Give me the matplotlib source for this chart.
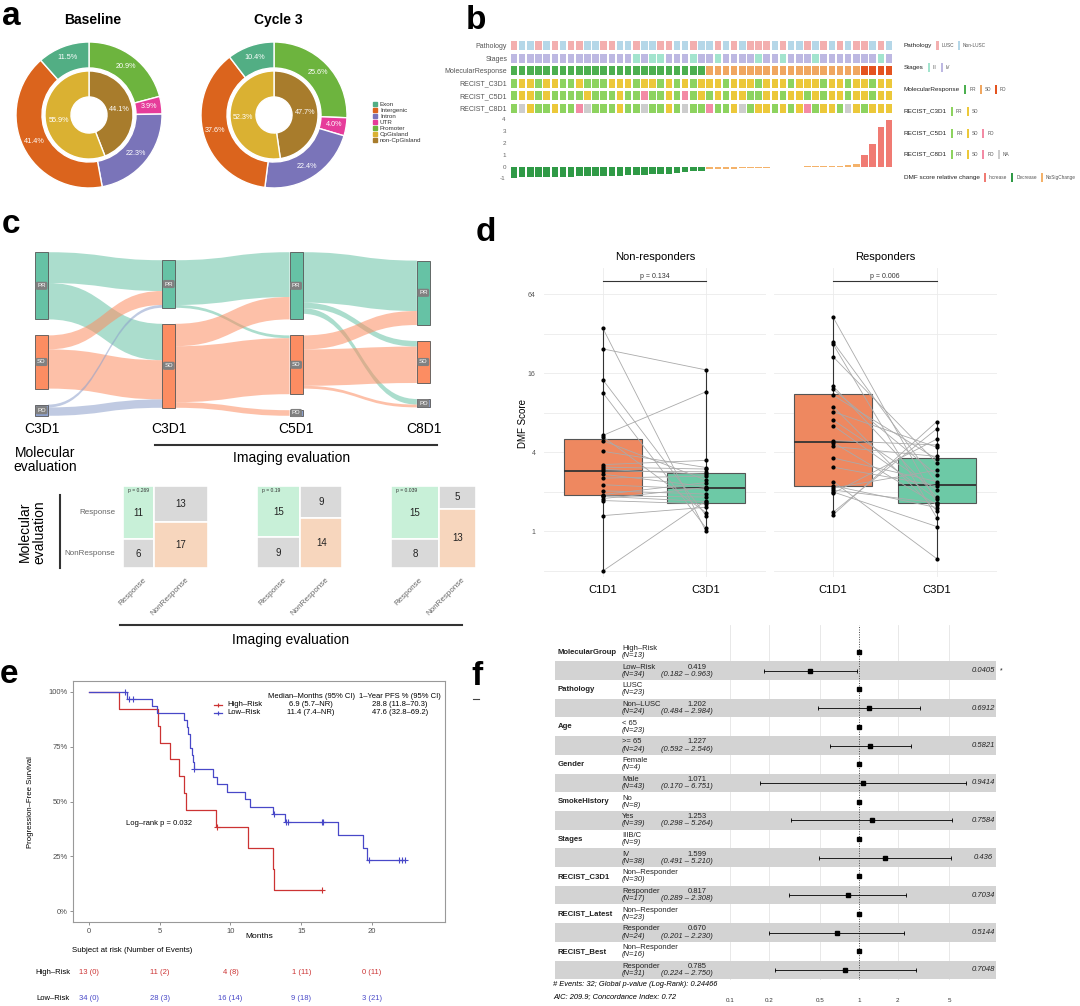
import numpy as np
import matplotlib
matplotlib.use('Agg')
import matplotlib.pyplot as plt
from matplotlib.path import Path
from matplotlib.patches import PathPatch, Rectangle
from matplotlib import transforms, cbook
from matplotlib.ticker import NullFormatter, NullLocator

plt.rcParams['font.family'] = ['Liberation Sans', 'DejaVu Sans']
plt.rcParams['axes.unicode_minus'] = False

# ---------------- data: panel a (genomic distribution, %)
region_names = ['Exon', 'Intergenic', 'Intron', 'UTR', 'Promoter']
baseline_region = [11.5, 41.4, 22.3, 3.9, 20.9]
cycle3_region = [10.4, 37.6, 22.4, 4.0, 25.6]
cpg_names = ['CpGisland', 'non-CpGisland']
baseline_cpg = [55.9, 44.1]
cycle3_cpg = [52.3, 47.7]

# ---------------- data: panel b (47 patients, one code per patient)
pathology_codes = "LNNLNLNLLN NLLNNLNNLL NNLNNLNLNL LLNLNNLNLN LNLLNLN".replace(' ', '')
stage_codes = "4444444444 4444434334 4434434444 3443444344 4444434".replace(' ', '')
molresp_codes = "PPPPPPPPPP PPPPPPPPPP PPPPSSSSSS SSSSSSSSSS SSSDDDD".replace(' ', '')
c3d1_codes = "PSSPSSPPSP PPSSSPSSPS PSPSSSPSSS PSSSPSSSPS SPSSPSS".replace(' ', '')
c5d1_codes = "PSSPSPPPPS PPPSPPDPPS PDPSPSPSSP PSSPSSPSPS SPSSPSS".replace(' ', '')
c8d1_codes = "PNSPPSPPDN PPPSPPNPPS PNPPDPPSNP SSPSPSDPSS PNSPSSS".replace(' ', '')
dmf_change = [-0.93, -0.92, -0.92, -0.91, -0.89, -0.88, -0.86, -0.86, -0.84, -0.83,
              -0.82, -0.80, -0.79, -0.77, -0.75, -0.73, -0.70, -0.67, -0.64, -0.60,
              -0.55, -0.50, -0.42, -0.38, -0.24, -0.22, -0.20, -0.18, -0.16, -0.14,
              -0.12, -0.10, -0.07, -0.05, -0.03, -0.01, 0.005, 0.01, 0.03, 0.05,
              0.08, 0.12, 0.18, 0.95, 1.90, 3.35, 3.90]

# ---------------- data: panel c
stage_names = ['C3D1', 'C3D1', 'C5D1', 'C8D1']
flow_mol_c3 = [[11, 13], [5, 14], [1, 3]]
flow_c3_c5 = [[16, 1, 0], [8, 20, 2]]
flow_c5_c8 = [[18, 2, 2], [5, 13, 1], [0, 0, 0]]
table_counts = [[[11, 13], [6, 17]], [[15, 9], [9, 14]], [[15, 5], [8, 13]]]
table_p = ['p = 0.269', 'p = 0.19', 'p = 0.039']
table_levels = ['Response', 'NonResponse']

# ---------------- data: panel d (DMF score)
nonresp_c1d1 = [35.3, 24.6, 14.3, 11.4, 5.39, 5.28, 4.92, 4.08, 3.23, 3.09, 2.97, 2.89,
                2.73, 2.55, 2.27, 2.04, 1.91, 1.87, 1.85, 1.78, 1.72, 1.32, 0.50]
nonresp_c3d1 = [1.00, 17.0, 1.32, 1.06, 11.6, 1.39, 2.46, 3.07, 3.48, 2.99, 2.73, 2.85,
                2.20, 2.64, 2.10, 1.93, 2.36, 1.83, 1.69, 2.16, 1.62, 1.53, 1.72]
resp_c1d1 = [42.8, 27.7, 26.7, 21.4, 12.8, 12.1, 10.9, 8.94, 8.17, 7.06, 6.41, 4.92,
             4.76, 4.44, 3.63, 3.09, 2.40, 2.23, 2.14, 2.07, 2.00, 1.96, 1.40, 1.34]
resp_c3d1 = [1.66, 2.31, 1.27, 3.32, 1.83, 2.69, 3.56, 1.44, 4.38, 2.07, 1.77, 4.56,
             1.60, 3.73, 2.40, 2.23, 0.62, 1.52, 2.93, 1.65, 1.09, 5.06, 6.06, 6.87]

# ---------------- data: panel e (PFS, months)
high_time = [2.15, 4.85, 5.02, 5.76, 6.39, 6.69, 6.87, 9.0, 9.05, 11.26, 13.03, 13.1, 16.5]
high_event = [1, 1, 1, 1, 1, 1, 1, 1, 0, 1, 1, 1, 0]
low_time = [2.58, 2.7, 2.83, 3.08, 4.47, 4.8, 6.74, 6.95, 7.02, 7.12, 7.17, 7.25, 7.32,
            7.4, 7.45, 8.79, 9.02, 9.75, 11.06, 11.36, 13.03, 13.1, 13.84, 13.9, 14.04,
            16.45, 16.55, 17.6, 19.34, 19.62, 19.8, 21.9, 22.1, 22.35]
low_event = [0, 1, 0, 0, 1, 1, 1, 1, 1, 1, 1, 1, 1, 1, 0, 1, 1, 1, 1, 1, 1, 0, 1, 0, 0,
             0, 0, 1, 1, 1, 0, 0, 0, 0]
risk_times = [0, 5, 10, 15, 20]
high_at_risk = [13, 11, 4, 1, 0]
high_cum_events = [0, 2, 8, 11, 11]
low_at_risk = [34, 28, 16, 9, 3]
low_cum_events = [0, 3, 14, 18, 21]

# ---------------- data: panel f (Cox model)
forest_vars = ['MolecularGroup', 'Pathology', 'Age', 'Gender', 'SmokeHistory', 'Stages',
               'RECIST_C3D1', 'RECIST_Latest', 'RECIST_Best']
forest_ref = ['High–Risk', 'LUSC', '< 65', 'Female', 'No', 'IIIB/C',
              'Non–Responder', 'Non–Responder', 'Non–Responder']
forest_ref_n = [13, 23, 23, 4, 8, 9, 30, 23, 16]
forest_cmp = ['Low–Risk', 'Non–LUSC', '>= 65', 'Male', 'Yes', 'IV',
              'Responder', 'Responder', 'Responder']
forest_cmp_n = [34, 24, 24, 43, 39, 38, 17, 24, 31]
forest_hr = [0.419, 1.202, 1.227, 1.071, 1.253, 1.599, 0.817, 0.670, 0.785]
forest_lo = [0.182, 0.484, 0.592, 0.170, 0.298, 0.491, 0.289, 0.201, 0.224]
forest_hi = [0.963, 2.984, 2.546, 6.751, 5.264, 5.210, 2.308, 2.230, 2.750]
forest_p = ['0.0405', '0.6912', '0.5821', '0.9414', '0.7584', '0.436', '0.7034', '0.5144', '0.7048']
forest_star = ['*', '', '', '', '', '', '', '', '']

# ---------------- colours
region_colors = ['#52AE84', '#DB641D', '#7A74B9', '#E63C9A', '#6DB43E']
cpg_colors = ['#DAB132', '#A87C2C']
path_colors = {'L': '#F3AFAF', 'N': '#B5D7E8'}
stage_colors = {'3': '#A3E4CE', '4': '#BDB8E2'}
mol_colors = {'P': '#4CAF4F', 'S': '#F0A760', 'D': '#E4531F'}
recist_colors = {'P': '#8DD35F', 'S': '#ECC83A', 'D': '#F38BA5', 'N': '#CDCDCD'}
dmf_colors = {'P': '#2F9A46', 'S': '#F4B26A', 'D': '#F07B73'}
node_colors = ['#66C2A5', '#FC8D62', '#8DA0CB']
red, blue = '#CC3333', '#4848C8'

W, H = 1080, 1006
fig = plt.figure(figsize=(W / 100, H / 100), dpi=100)


def px_axes(x0, y0, x1, y1):
    return fig.add_axes([x0 / W, 1 - y1 / H, (x1 - x0) / W, (y1 - y0) / H])


canvas = px_axes(0, 0, W, H)
canvas.set_xlim(0, W)
canvas.set_ylim(H, 0)
canvas.axis('off')
canvas.set_zorder(10)
renderer = fig.canvas.get_renderer()

for lab, x, y in [('a', 2, 25), ('b', 466, 29), ('c', 2, 233), ('d', 476, 241), ('e', 0, 683), ('f', 471, 685)]:
    canvas.text(x, y, lab, fontsize=24, fontweight='bold', ha='left', va='baseline')

# ================= panel a
def donut(cx, cy, title, region, cpg):
    ax = px_axes(cx - 76, cy - 76, cx + 76, cy + 76)
    order = [4, 3, 2, 1, 0]
    ax.pie([region[i] for i in order], colors=[region_colors[i] for i in order], radius=1,
           startangle=90, counterclock=False, autopct='%.1f%%', pctdistance=0.835,
           wedgeprops=dict(width=0.356, edgecolor='white', linewidth=1.0),
           textprops=dict(color='white', fontsize=5.2))
    ax.pie([cpg[1], cpg[0]], colors=[cpg_colors[1], cpg_colors[0]], radius=0.603,
           startangle=90, counterclock=False, autopct='%.1f%%', pctdistance=0.70,
           wedgeprops=dict(width=0.356, edgecolor='white', linewidth=1.0),
           textprops=dict(color='white', fontsize=5.2))
    ax.set_xlim(-76 / 73, 76 / 73)
    ax.set_ylim(-76 / 73, 76 / 73)
    ax.set_aspect('equal')
    canvas.text(cx + 4, 20, title, fontsize=10, fontweight='bold', ha='center', va='center')


donut(89, 115, 'Baseline', baseline_region, baseline_cpg)
donut(274, 115, 'Cycle 3', cycle3_region, cycle3_cpg)
for i, (name, col) in enumerate(zip(region_names + cpg_names, region_colors + cpg_colors)):
    canvas.plot(375, 104 + 6 * i, 's', ms=2.4, color=col)
    canvas.text(380, 104 + 6 * i, name, fontsize=4.5, va='center', color='#333')

# ================= panel b
hm_rows = ['Pathology', 'Stages', 'MolecularResponse', 'RECIST_C3D1', 'RECIST_C5D1', 'RECIST_C8D1']
hm_data = [(pathology_codes, path_colors), (stage_codes, stage_colors), (molresp_codes, mol_colors),
           (c3d1_codes, recist_colors), (c5d1_codes, recist_colors), (c8d1_codes, recist_colors)]
hm = px_axes(510, 40, 893, 114)
n_pat = len(molresp_codes)
for r, (codes, cmap) in enumerate(hm_data):
    hm.bar(range(n_pat), 0.73, bottom=r - 0.365, width=0.8, color=[cmap[c] for c in codes])
hm.set_xlim(-0.5, n_pat - 0.5)
hm.set_ylim(5.48, -0.48)
hm.set_yticks(range(len(hm_rows)))
hm.set_yticklabels(hm_rows, fontsize=5, color='#555')
hm.set_xticks([])
hm.tick_params(length=0, pad=2)
for s in hm.spines.values():
    s.set_visible(False)

bx = px_axes(510, 117, 893, 180)
bx.bar(range(n_pat), dmf_change, width=0.8, color=[dmf_colors[c] for c in molresp_codes])
bx.set_xlim(-0.5, n_pat - 0.5)
bx.set_ylim(-1.14, 4.19)
bx.set_yticks(range(-1, 5))
bx.set_yticklabels([str(v) for v in range(-1, 5)], fontsize=4.5, color='#666')
bx.set_xticks([])
bx.tick_params(length=0, pad=3)
for s in bx.spines.values():
    s.set_visible(False)

legend_b = [
    ('Pathology', [('LUSC', path_colors['L']), ('Non-LUSC', path_colors['N'])]),
    ('Stages', [('III', stage_colors['3']), ('IV', stage_colors['4'])]),
    ('MolecularResponse', [('PR', mol_colors['P']), ('SD', mol_colors['S']), ('PD', mol_colors['D'])]),
    ('RECIST_C3D1', [('PR', recist_colors['P']), ('SD', recist_colors['S'])]),
    ('RECIST_C5D1', [('PR', recist_colors['P']), ('SD', recist_colors['S']), ('PD', recist_colors['D'])]),
    ('RECIST_C8D1', [('PR', recist_colors['P']), ('SD', recist_colors['S']), ('PD', recist_colors['D']),
                     ('NA', recist_colors['N'])]),
    ('DMF score relative change', [('Increase', dmf_colors['D']), ('Decrease', dmf_colors['P']),
                                   ('NoSigChange', dmf_colors['S'])]),
]


def seq_text(x, y, s, **kw):
    t = canvas.text(x, y, s, va='center', ha='left', **kw)
    return x + t.get_window_extent(renderer=renderer).width


for (title, items), y in zip(legend_b, [45, 67, 89, 111, 133, 154, 177]):
    x = seq_text(904, y, title, fontsize=4.6, color='#222')
    for lab, col in items:
        x += 4
        canvas.add_patch(Rectangle((x, y - 4.5), 2.2, 9, color=col, lw=0))
        x = seq_text(x + 5, y, lab, fontsize=3.4, color='#555')

# ================= panel c : alluvial
flows = [flow_mol_c3, flow_c3_c5, flow_c5_c8]
node_counts = [[sum(r) for r in flow_mol_c3]] + [[sum(c) for c in zip(*f)] for f in flows]
sk = px_axes(20, 245, 445, 423)
sk.set_xlim(-0.169, 3.17)
sk.set_ylim(31.79, -31.79)
sk.axis('off')
gap = 16 / 2.8
hw = 0.051
tops = []
for counts in node_counts:
    y = -(sum(counts) + gap * (len(counts) - 1)) / 2
    t = []
    for c in counts:
        t.append(y)
        y += c + gap
    tops.append(t)


def band(ax, x0, x1, a0, b0, n, color):
    xm = (x0 + x1) / 2
    verts = [(x0, a0), (xm, a0), (xm, b0), (x1, b0),
             (x1, b0 + n), (xm, b0 + n), (xm, a0 + n), (x0, a0 + n), (x0, a0)]
    codes = [Path.MOVETO, Path.CURVE4, Path.CURVE4, Path.CURVE4,
             Path.LINETO, Path.CURVE4, Path.CURVE4, Path.CURVE4, Path.CLOSEPOLY]
    ax.add_patch(PathPatch(Path(verts, codes), fc=color, ec='none', alpha=0.55, zorder=1))


for k, f in enumerate(flows):
    out_off = list(tops[k])
    in_off = list(tops[k + 1])
    for i, row in enumerate(f):
        for j, n in enumerate(row):
            if n == 0:
                continue
            band(sk, k + hw, k + 1 - hw, out_off[i], in_off[j], n, node_colors[i])
            out_off[i] += n
            in_off[j] += n

levels = ['PR', 'SD', 'PD']
for k, counts in enumerate(node_counts):
    for i, c in enumerate(counts):
        sk.add_patch(Rectangle((k - hw, tops[k][i]), 2 * hw, c, fc=node_colors[i], ec='#555', lw=0.6, zorder=2))
        sk.text(k, tops[k][i] + c / 2, levels[i], fontsize=4.5, color='white', ha='center', va='center', zorder=3,
                bbox=dict(boxstyle='round,pad=0.25', fc='#808080', ec='none'))

for name, x in zip(stage_names, [41.5, 169, 296, 423.5]):
    canvas.text(x, 429, name, fontsize=10, ha='center', va='center')
canvas.text(45, 460, 'Molecular\nevaluation', fontsize=10, ha='center', va='center', linespacing=1.05)
canvas.plot([155, 437], [445, 445], color='#333', lw=1.5)
canvas.text(292, 458, 'Imaging evaluation', fontsize=10, ha='center', va='center')

# contingency mosaics
for ti, (counts, ptxt, x0) in enumerate(zip(table_counts, table_p, [123, 257, 391])):
    ax = px_axes(x0, 486, x0 + 85, 568)
    ax.set_xlim(0, 1)
    ax.set_ylim(1, 0)
    ax.axis('off')
    total = sum(sum(r) for r in counts)
    xl = 0
    for c in range(2):
        colsum = counts[0][c] + counts[1][c]
        w = colsum / total
        yt = 0
        for r in range(2):
            h = counts[r][c] / colsum
            col = '#C8F0D8' if (r == c == 0) else ('#F7D6BD' if r == c == 1 else '#D9D9D9')
            ax.add_patch(Rectangle((xl, yt), w, h, fc=col, ec='white', lw=1.2))
            ax.text(xl + w / 2, yt + h / 2, str(counts[r][c]), fontsize=7, ha='center', va='center', color='#222')
            if ti == 0 and c == 0:
                ax.text(-0.09, yt + h / 2, table_levels[r], fontsize=5.8, ha='right', va='center',
                        color='#666', clip_on=False)
            yt += h
        ax.text(xl + w / 2 + 0.05, 1.1, table_levels[c], fontsize=5.8, rotation=45, ha='right', va='top',
                rotation_mode='anchor', color='#666', clip_on=False)
        xl += w
    ax.text(0.06, 0.03, ptxt, fontsize=3.6, ha='left', va='top', color='#333')

canvas.text(32, 532, 'Molecular\nevaluation', fontsize=10, rotation=90, ha='center', va='center', linespacing=1.0)
canvas.plot([60, 60], [495, 568], color='#333', lw=1.5)
canvas.plot([120, 462], [625, 625], color='#333', lw=1.5)
canvas.text(291, 640, 'Imaging evaluation', fontsize=10, ha='center', va='center')

# ================= panel d
def log_box_stats(vals):
    st = cbook.boxplot_stats(np.log2(vals), whis=(0, 100))[0]
    for key in ('med', 'q1', 'q3', 'whislo', 'whishi'):
        st[key] = 2 ** st[key]
    st['fliers'] = []
    return st


def dmf_facet(x0, x1, title, ptxt, c1, c3, show_y):
    ax = px_axes(x0, 268, x1, 577)
    ax.set_yscale('log', base=2)
    res = ax.bxp([log_box_stats(c1), log_box_stats(c3)], positions=[1, 2], widths=0.75,
                 patch_artist=True, showfliers=False, showcaps=False, manage_ticks=False,
                 boxprops=dict(edgecolor='#555', linewidth=0.8),
                 medianprops=dict(color='#333', linewidth=1.3),
                 whiskerprops=dict(color='#333', linewidth=0.8))
    for b, col in zip(res['boxes'], ['#EE8860', '#6DC9A6']):
        b.set_facecolor(col)
        b.set_zorder(2)
    for a, b in zip(c1, c3):
        ax.plot([1, 2], [a, b], color='#AAAAAA', lw=0.6, zorder=3)
    ax.plot([1] * len(c1), c1, 'o', color='black', ms=2.0, zorder=4)
    ax.plot([2] * len(c3), c3, 'o', color='black', ms=2.0, zorder=4)
    ax.plot([1, 2], [81, 81], color='#333', lw=0.8, clip_on=False)
    ax.text(1.5, 88, ptxt, fontsize=5, ha='center', va='center', color='#333')
    ax.set_ylim(0.45, 101.6)
    ax.set_xlim(0.43, 2.58)
    for s in ax.spines.values():
        s.set_visible(False)
    ax.set_yticks([1, 4, 16, 64])
    ax.set_yticks([0.5, 2, 8, 32], minor=True)
    ax.yaxis.set_minor_formatter(NullFormatter())
    ax.set_yticklabels(['1', '4', '16', '64'] if show_y else [], fontsize=5, color='#555')
    ax.set_xticks([1, 2])
    ax.set_xticklabels(['C1D1', 'C3D1'], fontsize=8)
    ax.tick_params(length=0, which='both')
    ax.tick_params(axis='x', pad=6)
    ax.tick_params(axis='y', pad=6)
    ax.grid(True, which='both', color='#EBEBEB', lw=0.6)
    ax.set_axisbelow(True)
    canvas.text((x0 + x1) / 2, 257, title, fontsize=8, ha='center', va='center')


dmf_facet(544, 766, 'Non-responders', 'p = 0.134', nonresp_c1d1, nonresp_c3d1, True)
dmf_facet(774, 997, 'Responders', 'p = 0.006', resp_c1d1, resp_c3d1, False)
canvas.text(523, 423, 'DMF Score', fontsize=7, rotation=90, ha='center', va='center')

# ================= panel e
def km_curve(times, events):
    order = np.argsort(times, kind='stable')
    t = np.asarray(times, float)[order]
    e = np.asarray(events)[order]
    s, at_risk = 1.0, len(t)
    xs, ys, cens = [0.0], [1.0], []
    for ti, ei in zip(t, e):
        if ei:
            s *= (at_risk - 1) / at_risk
            xs.append(ti)
            ys.append(s)
        else:
            cens.append((ti, s))
        at_risk -= 1
    xs.append(t.max())
    ys.append(s)
    return xs, ys, cens


km = px_axes(73, 681, 445, 922)
km.set_xlim(-1.13, 25.16)
km.set_ylim(-0.05, 1.05)
for times, events, col in [(high_time, high_event, red), (low_time, low_event, blue)]:
    xs, ys, cens = km_curve(times, events)
    km.step(xs, ys, where='post', color=col, lw=0.9)
    km.plot([c[0] for c in cens], [c[1] for c in cens], '+', color=col, ms=4, mew=0.8)
km.set_xticks(risk_times)
km.set_xticklabels([str(v) for v in risk_times], fontsize=5.5, color='#4D4D4D')
km.set_yticks([0, 0.25, 0.5, 0.75, 1])
km.set_yticklabels(['0%', '25%', '50%', '75%', '100%'], fontsize=5.5, color='#4D4D4D')
km.tick_params(length=2, width=0.5, color='#666', pad=2)
for s in km.spines.values():
    s.set_color('#999')
    s.set_linewidth(0.8)
km.text(4.95, 0.40, 'Log–rank p = 0.032', fontsize=5.5, ha='center', va='center')
canvas.text(259, 937, 'Months', fontsize=6, ha='center', va='center')
canvas.text(31, 802, 'Progression–Free Survival', fontsize=5.6, rotation=90, ha='center', va='center')
canvas.text(311, 697, 'Median–Months (95% CI)', fontsize=5.5, ha='center', va='center')
canvas.text(400, 697, '1–Year PFS % (95% CI)', fontsize=5.5, ha='center', va='center')
for y, col, name, med, pfs in [(705, red, 'High–Risk', '6.9 (5.7–NR)', '28.8 (11.8–70.3)'),
                               (713, blue, 'Low–Risk', '11.4 (7.4–NR)', '47.6 (32.8–69.2)')]:
    canvas.plot([214, 222], [y, y], color=col, lw=0.9)
    canvas.plot(218, y, '+', color=col, ms=3.5, mew=0.8)
    canvas.text(227, y, name, fontsize=5.5, ha='left', va='center')
    canvas.text(311, y, med, fontsize=5.5, ha='center', va='center')
    canvas.text(400, y, pfs, fontsize=5.5, ha='center', va='center')

canvas.text(72, 951, 'Subject at risk (Number of Events)', fontsize=5.7, ha='left', va='center')
risk_tf = transforms.blended_transform_factory(km.transData, canvas.transData)
for y, col, name, nrisk, nev in [(972, red, 'High–Risk', high_at_risk, high_cum_events),
                                 (999, blue, 'Low–Risk', low_at_risk, low_cum_events)]:
    canvas.text(70, y, name, fontsize=5.5, ha='right', va='center')
    for t, n, e in zip(risk_times, nrisk, nev):
        canvas.text(t, y, f'{n} ({e})', fontsize=5.5, ha='center', va='center', color=col, transform=risk_tf)

# ================= panel f : forest plot
canvas.plot([473, 479], [699, 699], color='#444', lw=0.8)
fo = px_axes(555, 625, 996, 980)
fo.set_xscale('log')
fo.set_xlim(10 ** ((555 - 859) / 129), 10 ** ((996 - 859) / 129))
fo.set_ylim(17.54, -1.444)
for v in [0.1, 0.2, 0.5, 2, 5]:
    fo.axvline(v, color='#E4E4E4', lw=0.6, zorder=0)
fo.axvline(1, color='#444', lw=0.7, ls=(0, (1, 1.5)), zorder=2)
tf = transforms.blended_transform_factory(fo.transAxes, fo.transData)


def fx(px):
    return (px - 555) / 441


txt = dict(fontsize=5.5, va='center', transform=tf, color='#222')
for k in range(len(forest_vars)):
    y0, y1 = 2 * k, 2 * k + 1
    fo.axhspan(y1 - 0.495, y1 + 0.495, color='#D3D3D3', lw=0, zorder=0.5)
    fo.text(fx(558), y0, forest_vars[k], fontweight='bold', ha='left', **dict(txt, fontsize=5.6))
    fo.text(fx(622), y0 - 0.19, forest_ref[k], ha='left', **txt)
    fo.text(fx(622), y0 + 0.19, f'(N={forest_ref_n[k]})', ha='left', style='italic', **txt)
    fo.text(fx(622), y1 - 0.19, forest_cmp[k], ha='left', **txt)
    fo.text(fx(622), y1 + 0.19, f'(N={forest_cmp_n[k]})', ha='left', style='italic', **txt)
    fo.text(fx(697), y1 - 0.19, f'{forest_hr[k]:.3f}', ha='center', **txt)
    fo.text(fx(687), y1 + 0.19, f'({forest_lo[k]:.3f} – {forest_hi[k]:.3f})', ha='center', style='italic', **txt)
    fo.text(fx(983), y1, forest_p[k], ha='center', style='italic', **txt)
    if forest_star[k]:
        fo.text(fx(1000), y1, forest_star[k], ha='left', clip_on=False, **dict(txt, fontsize=5))
    fo.plot([forest_lo[k], forest_hi[k]], [y1, y1], color='black', lw=0.6, zorder=3)
    fo.plot([forest_lo[k], forest_hi[k]], [y1, y1], '|', color='black', ms=2.4, mew=0.6, zorder=3)
    fo.plot([1], [y0], 's', color='black', ms=3.5, zorder=4)
    fo.plot([forest_hr[k]], [y1], 's', color='black', ms=3.5, zorder=4)
fo.set_xticks([0.1, 0.2, 0.5, 1, 2, 5])
fo.xaxis.set_minor_locator(NullLocator())
fo.set_xticklabels(['0.1', '0.2', '0.5', '1', '2', '5'], fontsize=4.5, color='#333')
fo.tick_params(axis='x', length=0, pad=13)
fo.set_yticks([])
for s in fo.spines.values():
    s.set_visible(False)
canvas.text(553, 985, '# Events: 32; Global p-value (Log-Rank): 0.24466', fontsize=5.4, style='italic',
            ha='left', va='center')
canvas.text(553, 997, 'AIC: 209.9; Concordance Index: 0.72', fontsize=5.4, style='italic',
            ha='left', va='center')

fig.savefig('out.png', dpi=100)
